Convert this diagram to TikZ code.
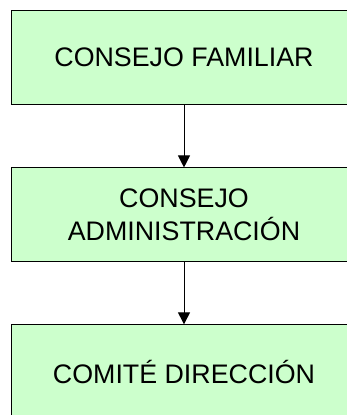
\documentclass[tikz,border=0pt]{standalone}
\usepackage{fontspec}
\setmainfont{Liberation Sans}
\usetikzlibrary{positioning,arrows.meta}

\definecolor{boxgreen}{RGB}{204,255,204}

\begin{document}
\begin{tikzpicture}[x=1pt,y=1pt,
    orgbox/.style={draw=black,fill=boxgreen,line width=0.9pt,minimum width=346pt,minimum height=94pt,align=center,font=\fontsize{26.8}{33}\selectfont,inner sep=0pt},
    link/.style={line width=1pt,-{Triangle[width=12pt,length=12pt]}}]
    \useasboundingbox (0,0) rectangle (347,-415);
    %boxes
    \node[orgbox] (familiar) at (184,-57) {CONSEJO FAMILIAR};
    \node[orgbox,below=63pt of familiar] (admin) {CONSEJO\\ADMINISTRACIÓN};
    \node[orgbox,below=62pt of admin] (comite) {COMITÉ DIRECCIÓN};
    %arrows
    \draw[link] (familiar) -- (admin);
    \draw[link] (admin) -- (comite);
\end{tikzpicture}
\end{document}
